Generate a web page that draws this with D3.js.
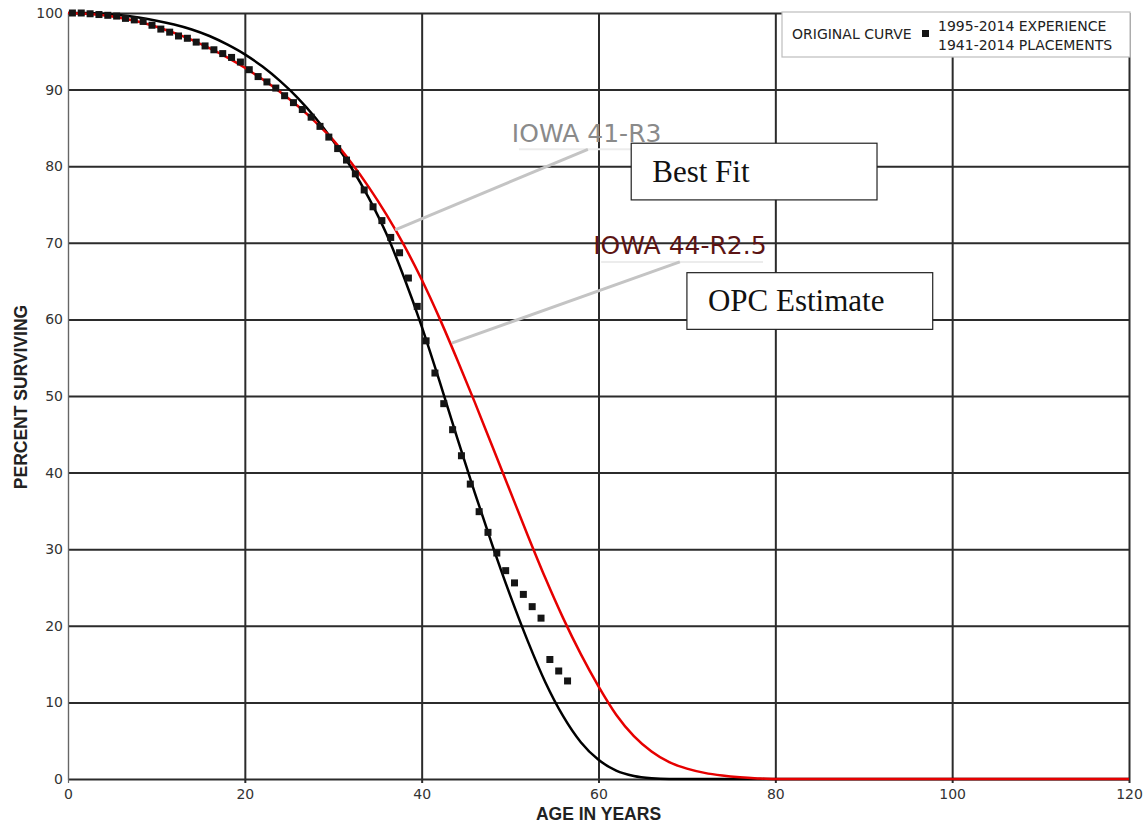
<!DOCTYPE html>
<html>
<head>
<meta charset="utf-8">
<script src="https://cdn.jsdelivr.net/npm/d3@7/dist/d3.min.js"></script>
<style>
  html, body { margin: 0; padding: 0; background: #fff; }
  svg { display: block; }
</style>
</head>
<body>
<svg id="chart" width="1146" height="825"></svg>
<script>
// Observed survivor percentages (1995-2014 experience, 1941-2014 placements)
const obsAges = [0.5,1.5,2.5,3.5,4.5,5.5,6.5,7.5,8.5,9.5,10.5,11.5,12.5,13.5,14.5,15.5,16.5,17.5,18.5,19.5,
  20.5,21.5,22.5,23.5,24.5,25.5,26.5,27.5,28.5,29.5,30.5,31.5,32.5,33.5,34.5,35.5,36.5,37.5,38.5,39.5,
  40.5,41.5,42.5,43.5,44.5,45.5,46.5,47.5,48.5,49.5,50.5,51.5,52.5,53.5,54.5,55.5,56.5];
const obsPct = [100,100,99.9,99.8,99.7,99.6,99.3,99.1,98.9,98.4,97.9,97.5,97.0,96.7,96.2,95.7,95.2,94.7,94.2,93.6,
  92.6,91.7,91.0,90.2,89.2,88.3,87.4,86.4,85.2,83.8,82.3,80.8,79.0,76.9,74.7,72.9,70.7,68.7,65.4,61.7,
  57.2,53.0,49.0,45.6,42.2,38.5,34.9,32.2,29.5,27.2,25.6,24.1,22.5,21.0,15.6,14.1,12.8];

// Iowa 41-R3 survivor curve
const r3Ages = [0,2,4,6,8,10,12,14,16,18,20,22,24,26,28,30,32,34,36,38,40,42,44,46,48,50,52,54,56,58,60,62,64,66,68,120];
const r3Pct  = [100,100,99.9,99.7,99.4,99.0,98.5,97.85,97.0,95.9,94.6,93.0,91.1,88.9,86.3,83.3,79.9,75.9,71.2,65.5,59.1,52.0,44.6,37.4,30.5,24.0,18.0,12.6,8.2,4.8,2.5,1.1,0.4,0.1,0,0];

// Iowa 44-R2.5 survivor curve
const r25Ages = [0,2,4,6,8,10,12,14,16,18,20,22,24,26,28,30,32,34,36,38,40,42,44,46,48,50,52,54,56,58,60,62,64,66,68,70,72,74,76,78,80,120];
const r25Pct  = [100,99.9,99.7,99.35,98.85,98.2,97.4,96.5,95.4,94.2,92.85,91.35,89.7,87.85,85.75,83.4,80.5,77.3,73.7,69.7,65.2,60.2,54.8,49.2,43.4,37.6,31.8,26.2,21.0,16.3,12.1,8.4,5.6,3.6,2.2,1.35,0.8,0.45,0.22,0.08,0,0];

const xTicks = [0,20,40,60,80,100,120];
const yTicks = [0,10,20,30,40,50,60,70,80,90,100];

const legendItems = ["1995-2014 EXPERIENCE", "1941-2014 PLACEMENTS"];

const svg = d3.select("#chart");
const plot = { left: 68, right: 1129, top: 13, bottom: 779 };

const x = d3.scaleLinear().domain([0,120]).range([plot.left, plot.right]);
const y = d3.scaleLinear().domain([0,100]).range([plot.bottom, plot.top]);

const tickFont = "'DejaVu Sans', Verdana, sans-serif";
const titleFont = "'Liberation Sans', Arial, sans-serif";

// Horizontal grid + y axis labels
const yAxis = d3.axisLeft(y).tickValues(yTicks).tickSize(-(plot.right - plot.left)).tickPadding(5).tickFormat(d3.format("d"));
const gy = svg.append("g").attr("transform", `translate(${plot.left},0)`).call(yAxis);
gy.select(".domain").attr("stroke", "#666").attr("stroke-width", 1.2);
gy.selectAll(".tick line").attr("stroke", "#2b2b2b").attr("stroke-width", 2).attr("x1", 0);
gy.selectAll(".tick text").attr("font-family", tickFont).attr("font-size", 14).attr("fill", "#333").attr("x", -5);

// Vertical grid + x axis labels
const xAxis = d3.axisBottom(x).tickValues(xTicks).tickSize(-(plot.bottom - plot.top)).tickPadding(10).tickFormat(d3.format("d"));
const gx = svg.append("g").attr("transform", `translate(0,${plot.bottom})`).call(xAxis);
gx.select(".domain").remove();
gx.selectAll(".tick line").attr("stroke", "#2b2b2b").attr("stroke-width", 2).attr("y1", 4);
gx.selectAll(".tick").filter(d => d === 0).select("line").attr("stroke", "#666").attr("stroke-width", 1.2);
gx.selectAll(".tick text").attr("font-family", tickFont).attr("font-size", 14).attr("fill", "#333");

// Axis titles
svg.append("text")
  .attr("transform", `translate(27,${(plot.top + plot.bottom) / 2 + 1}) rotate(-90)`)
  .attr("text-anchor", "middle")
  .attr("font-family", titleFont)
  .attr("font-weight", "bold").attr("font-size", 17.5).attr("fill", "#222")
  .text("PERCENT SURVIVING");

svg.append("text")
  .attr("x", (x(0) + x(120)) / 2).attr("y", 820)
  .attr("text-anchor", "middle")
  .attr("font-family", titleFont)
  .attr("font-weight", "bold").attr("font-size", 17.5).attr("fill", "#222")
  .text("AGE IN YEARS");

// Survivor curves
const line = d3.line().x(d => x(d[0])).y(d => y(d[1])).curve(d3.curveMonotoneX);
svg.append("path")
  .datum(d3.zip(r3Ages, r3Pct))
  .attr("fill", "none").attr("stroke", "#000").attr("stroke-width", 2.5)
  .attr("d", line);
svg.append("path")
  .datum(d3.zip(r25Ages, r25Pct))
  .attr("fill", "none").attr("stroke", "#e60000").attr("stroke-width", 2.5)
  .attr("d", line);

// Observed points
const sq = 7;
svg.append("g").selectAll("rect")
  .data(d3.zip(obsAges, obsPct))
  .join("rect")
  .attr("x", d => x(d[0]) - sq / 2)
  .attr("y", d => y(d[1]) - sq / 2)
  .attr("width", sq).attr("height", sq)
  .attr("fill", "#151515");

// Curve call-outs (positions in data units)
const callouts = [
  { text: "IOWA 41-R3", color: "#8a8a8a", tx: 50.2, ty: 83.2, ux1: 51.0, ux2: 67.0, uy: 82.2, lx1: 58.8, ly1: 82.2, lx2: 37.0, ly2: 71.7 },
  { text: "IOWA 44-R2.5", color: "#5c1414", tx: 59.4, ty: 68.5, ux1: 60.3, ux2: 78.6, uy: 67.5, lx1: 69.2, ly1: 67.5, lx2: 43.4, ly2: 56.9 }
];
callouts.forEach(c => {
  svg.append("line")
    .attr("x1", x(c.ux1)).attr("x2", x(c.ux2)).attr("y1", y(c.uy)).attr("y2", y(c.uy))
    .attr("stroke", "#ececec").attr("stroke-width", 2);
  svg.append("line")
    .attr("x1", x(c.lx1)).attr("y1", y(c.ly1)).attr("x2", x(c.lx2)).attr("y2", y(c.ly2))
    .attr("stroke", "#c4c4c4").attr("stroke-width", 3);
  svg.append("text")
    .attr("x", x(c.tx)).attr("y", y(c.ty))
    .attr("font-family", "'DejaVu Sans', Verdana, sans-serif")
    .attr("font-size", 25).attr("fill", c.color)
    .text(c.text);
});

// Boxed notes
const notes = [
  { text: "Best Fit", x0: 63.7, x1: 91.5, y0: 83.0, y1: 75.6 },
  { text: "OPC Estimate", x0: 70.0, x1: 97.8, y0: 66.1, y1: 58.7 }
];
notes.forEach(n => {
  svg.append("rect")
    .attr("x", x(n.x0)).attr("y", y(n.y0))
    .attr("width", x(n.x1) - x(n.x0)).attr("height", y(n.y1) - y(n.y0))
    .attr("fill", "#fff").attr("stroke", "#222").attr("stroke-width", 1.2);
  svg.append("text")
    .attr("x", x(n.x0) + 21).attr("y", (y(n.y0) + y(n.y1)) / 2 + 10)
    .attr("font-family", "'Liberation Serif', 'Times New Roman', serif")
    .attr("font-size", 31).attr("fill", "#111")
    .text(n.text);
});

// Legend
const lg = svg.append("g").attr("transform", `translate(${plot.right - 347},${plot.top - 1})`);
lg.append("rect").attr("x", 0).attr("y", 0).attr("width", 348).attr("height", 45)
  .attr("fill", "#fff").attr("stroke", "#bdbdbd").attr("stroke-width", 1.2);
lg.append("text").attr("x", 10).attr("y", 27)
  .attr("font-family", tickFont).attr("font-size", 14).attr("fill", "#222")
  .text("ORIGINAL CURVE");
lg.append("rect").attr("x", 140).attr("y", 18).attr("width", 7).attr("height", 7).attr("fill", "#151515");
lg.selectAll("text.item").data(legendItems).join("text")
  .attr("class", "item")
  .attr("x", 156).attr("y", (d, i) => 19 + i * 19)
  .attr("font-family", tickFont).attr("font-size", 14).attr("fill", "#222")
  .text(d => d);
</script>
</body>
</html>
